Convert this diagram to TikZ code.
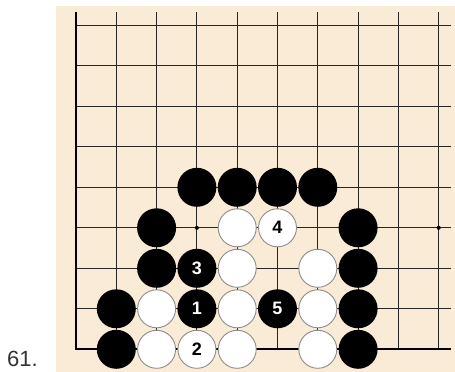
\documentclass[tikz,border=0pt]{standalone}
\usepackage{fontspec}
\setmainfont{Liberation Sans}
\definecolor{board}{RGB}{250,235,215}
\begin{document}
\begin{tikzpicture}[x=1pt,y=-1pt,
  bst/.style={circle,fill=black,minimum size=39pt,inner sep=0pt,text=white,font=\bfseries\fontsize{18}{18}\selectfont},
  wst/.style={circle,fill=white,draw=black!45,line width=0.9pt,minimum size=38pt,inner sep=0pt,text=black,font=\bfseries\fontsize{18}{18}\selectfont},
  gridline/.style={black!85,line width=0.9pt},
  edgeline/.style={black,line width=2pt}]
\useasboundingbox (0,0) rectangle (455,372);
\fill[board] (56,6) rectangle (455,372);
\foreach \c in {1,...,9} \draw[gridline] ({76+40.3*\c},12) -- ({76+40.3*\c},349);
\foreach \r in {0,...,7} \draw[gridline] (76,{25.3+40.5*\r}) -- (451,{25.3+40.5*\r});
\draw[edgeline] (76,12) -- (76,349) -- (451,349);
\fill ({76+40.3*3},{25.3+40.5*5}) circle (2);
\fill ({76+40.3*9},{25.3+40.5*5}) circle (2);
\foreach \c/\r/\n in {3/4/,4/4/,5/4/,6/4/,2/5/,7/5/,2/6/,3/6/3,7/6/,1/7/,3/7/1,5/7/5,7/7/,1/8/,7/8/}
  \node[bst] (b\c\r) at ({76+40.3*\c},{25.3+40.5*\r}) {\n};
\foreach \c/\r/\n in {4/5/,5/5/4,4/6/,6/6/,2/7/,4/7/,6/7/,2/8/,3/8/2,4/8/,6/8/}
  \node[wst] (w\c\r) at ({76+40.3*\c},{25.3+40.5*\r}) {\n};
\node[anchor=base west,inner sep=0pt,text=black!80,font=\fontsize{22}{22}\selectfont] (lbl) at (7,366) {61.};
\end{tikzpicture}
\end{document}
